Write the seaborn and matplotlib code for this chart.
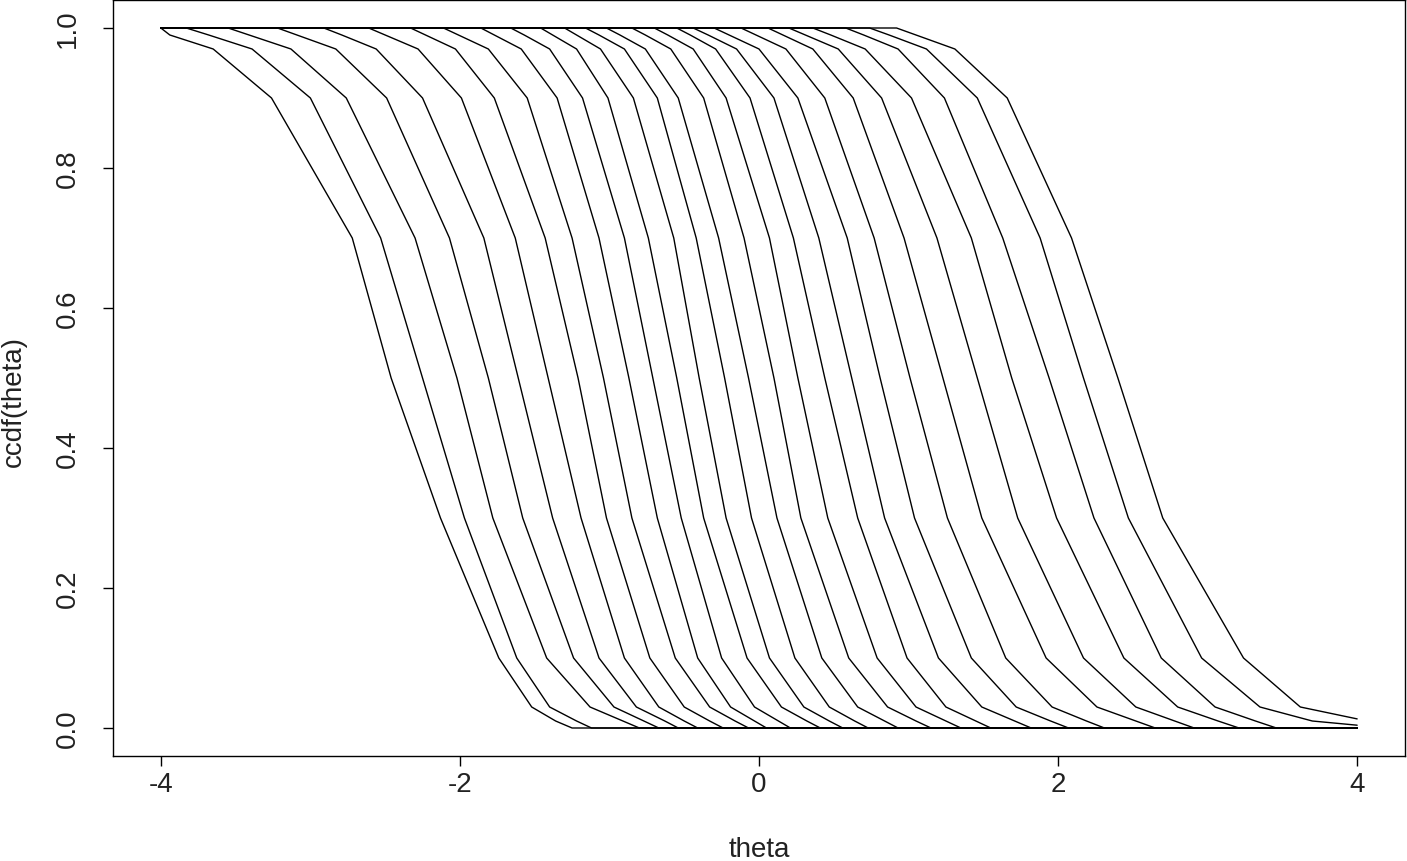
import numpy as np
import pandas as pd
import matplotlib
matplotlib.use("Agg")
import matplotlib.pyplot as plt
import seaborn as sns

# probability levels at which each curve's theta position was read
levels = [1.0, 0.99, 0.97, 0.9, 0.7, 0.5, 0.3, 0.1, 0.03, 0.01, 0.0]

# theta where each of the 26 curves leaves 1.0 (None = already at x=-4)
x_100 = [None, -3.83, -3.55, -3.22, -2.91, -2.61, -2.33, -2.11, -1.86, -1.66, -1.46, -1.30, -1.16,
         -1.02, -0.85, -0.70, -0.55, -0.44, -0.30, -0.12, 0.06, 0.20, 0.36, 0.58, 0.74, 0.92]
x_99 = [-3.94, -3.68, -3.41, -3.09, -2.79, -2.50, -2.23, -2.01, -1.77, -1.57, -1.38, -1.22, -1.07,
        -0.93, -0.76, -0.61, -0.46, -0.34, -0.20, -0.02, 0.16, 0.31, 0.48, 0.70, 0.87, 1.05]
x_97 = [-3.65, -3.39, -3.13, -2.83, -2.56, -2.28, -2.03, -1.81, -1.59, -1.40, -1.22, -1.06, -0.90,
        -0.76, -0.59, -0.44, -0.29, -0.15, 0.00, 0.18, 0.36, 0.53, 0.71, 0.93, 1.12, 1.31]
x_90 = [-3.26, -3.00, -2.76, -2.49, -2.25, -1.99, -1.77, -1.55, -1.35, -1.18, -1.01, -0.84, -0.68,
        -0.54, -0.37, -0.22, -0.06, 0.10, 0.26, 0.44, 0.63, 0.82, 1.02, 1.24, 1.46, 1.66]
x_70 = [-2.72, -2.53, -2.30, -2.07, -1.84, -1.63, -1.43, -1.25, -1.07, -0.90, -0.74, -0.57, -0.42,
        -0.27, -0.10, 0.07, 0.23, 0.40, 0.59, 0.77, 0.97, 1.19, 1.42, 1.63, 1.88, 2.09]
x_50 = [-2.46, -2.25, -2.02, -1.81, -1.61, -1.41, -1.21, -1.04, -0.87, -0.71, -0.55, -0.40, -0.23,
        -0.07, 0.10, 0.26, 0.44, 0.62, 0.81, 1.01, 1.23, 1.46, 1.69, 1.94, 2.17, 2.40]
x_30 = [-2.13, -1.97, -1.78, -1.58, -1.38, -1.19, -1.02, -0.85, -0.68, -0.52, -0.37, -0.22, -0.05,
        0.12, 0.28, 0.46, 0.66, 0.84, 1.04, 1.26, 1.49, 1.73, 1.99, 2.24, 2.47, 2.70]
x_10 = [-1.74, -1.62, -1.42, -1.24, -1.07, -0.90, -0.73, -0.56, -0.41, -0.25, -0.08, 0.07, 0.24,
        0.42, 0.60, 0.79, 0.99, 1.20, 1.42, 1.65, 1.92, 2.17, 2.44, 2.69, 2.96, 3.24]
x_03 = [-1.52, -1.40, -1.13, -0.97, -0.82, -0.67, -0.50, -0.33, -0.19, -0.03, 0.15, 0.30, 0.47,
        0.66, 0.86, 1.05, 1.25, 1.49, 1.72, 1.96, 2.26, 2.52, 2.80, 3.05, 3.35, 3.62]
x_01 = [-1.36, -1.22, -0.91, -0.77, -0.63, -0.50, -0.33, -0.16, -0.03, 0.13, 0.32, 0.47, 0.64,
        0.84, 1.05, 1.25, 1.45, 1.71, 1.95, 2.19, 2.52, 2.78, 3.07, 3.32, 3.70, None]
x_00 = [-1.25, -1.12, -0.80, -0.67, -0.54, -0.41, -0.24, -0.07, 0.05, 0.21, 0.41, 0.56, 0.73,
        0.93, 1.15, 1.35, 1.55, 1.82, 2.07, 2.31, 2.65, 2.91, 3.21, 3.46, None, None]
# value of each curve at the right end of the grid (theta = 4)
y_end = [0, 0, 0, 0, 0, 0, 0, 0, 0, 0, 0, 0, 0, 0, 0, 0, 0, 0, 0, 0, 0, 0, 0, 0, 0.004, 0.013]

theta_min, theta_max = -4.0, 4.0
xticks = [-4, -2, 0, 2, 4]
yticks = [0.0, 0.2, 0.4, 0.6, 0.8, 1.0]
ytick_labels = ["0.0", "0.2", "0.4", "0.6", "0.8", "1.0"]

cols = [x_100, x_99, x_97, x_90, x_70, x_50, x_30, x_10, x_03, x_01, x_00]
rows = []
for k in range(len(x_50)):
    order = 0
    rows.append((k, order, theta_min, 1.0)); order += 1
    for lev, col in zip(levels, cols):
        if col[k] is not None:
            rows.append((k, order, col[k], lev)); order += 1
    rows.append((k, order, theta_max, y_end[k]))
df = pd.DataFrame(rows, columns=["curve", "order", "theta", "ccdf"])

sns.set_style("ticks")
plt.rcParams["font.family"] = ["Liberation Sans", "DejaVu Sans"]

W, H = 1407, 862
fig = plt.figure(figsize=(W / 100, H / 100), dpi=100)
ax = fig.add_axes([113 / W, (H - 757) / H, (1405 - 113) / W, (757 - 1) / H])

sns.lineplot(data=df, x="theta", y="ccdf", units="curve", estimator=None, sort=False,
             color="black", linewidth=1.0, legend=False, ax=ax)

ax.set_xlim(-4.32, 4.32)
ax.set_ylim(-0.04, 1.04)
ax.set_xticks(xticks)
ax.set_xticklabels([str(t) for t in xticks])
ax.set_yticks(yticks)
ax.set_yticklabels(ytick_labels, rotation=90, va="center")
for s in ax.spines.values():
    s.set_visible(True)
    s.set_linewidth(1.0)
    s.set_color("black")
ax.tick_params(axis="both", direction="out", length=7, width=1.0, colors="black",
               labelsize=20, labelcolor="#222222")
ax.tick_params(axis="x", pad=4)
ax.tick_params(axis="y", pad=16)

ax.set_xlabel("theta", fontsize=20, color="#222222")
ax.set_ylabel("ccdf(theta)", fontsize=20, color="#222222")
ax.xaxis.label.set_va("center")
ax.yaxis.label.set_va("center")
ax.xaxis.set_label_coords(0.5, (757 - 850) / 756)
ax.yaxis.set_label_coords((14 - 113) / 1292, (757 - 402) / 756)

fig.savefig("out.png", dpi=100)
